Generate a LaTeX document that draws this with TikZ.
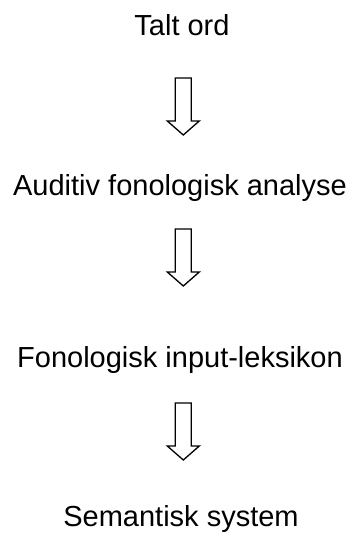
\documentclass[tikz,border=0pt]{standalone}
\usepackage{fontspec}
\setmainfont{Liberation Sans}
\begin{document}
\begin{tikzpicture}[x=1pt,y=1pt,
  lbl/.style={anchor=base, inner sep=0pt, font=\fontsize{29}{34}\selectfont},
  blockarrow/.pic={\draw[line width=1.3pt, line join=miter]
    (-8,0) -- (-8,-43) -- (-16,-43) -- (0,-57) -- (16,-43) -- (8,-43) -- (8,0) -- cycle;}]
\useasboundingbox (0,0) rectangle (351,533);
\node[lbl] (t1) at (182,497) {Talt ord};
\node[lbl] (t2) at (180,337) {Auditiv fonologisk analyse};
\node[lbl] (t3) at (180,165) {Fonologisk input-leksikon};
\node[lbl] (t4) at (181,6) {Semantisk system};
\coordinate (a1) at (183.3,455);
\coordinate (a2) at (183.3,304);
\coordinate (a3) at (183.3,130);
\pic at (a1) {blockarrow};
\pic at (a2) {blockarrow};
\pic at (a3) {blockarrow};
\end{tikzpicture}
\end{document}
